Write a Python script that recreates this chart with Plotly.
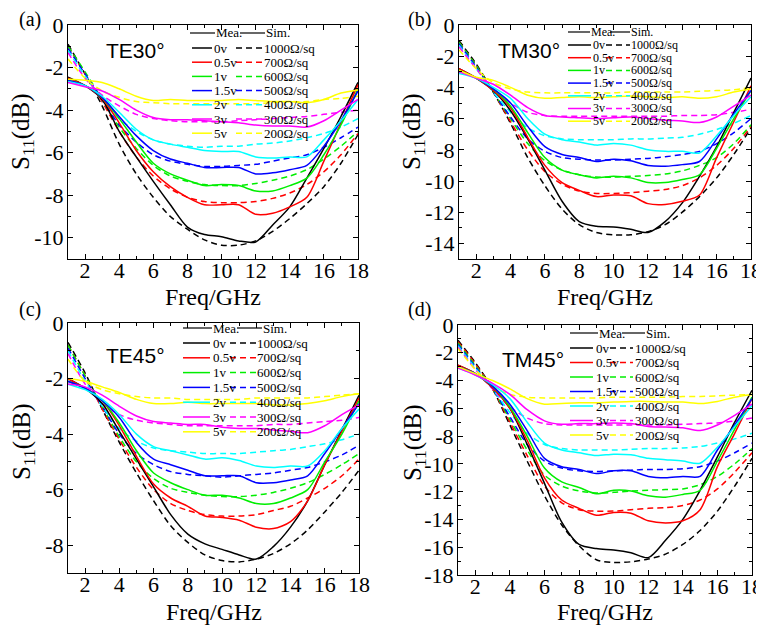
import plotly.graph_objects as go

FREQ = list(range(1, 19))
VOLTS = ["0v", "0.5v", "1v", "1.5v", "2v", "3v", "5v"]
SHEETS = ["1000Ω/sq", "700Ω/sq", "600Ω/sq", "500Ω/sq", "400Ω/sq", "300Ω/sq", "200Ω/sq"]
COLORS = ["#000000", "#ff0000", "#00ee00", "#0000ff", "#00ffff", "#ff00ff", "#ffff00"]
XTICKS = [2, 4, 6, 8, 10, 12, 14, 16, 18]
XTICK_TEXT = ["2", "4", "6", "8", "10", "12", "14", "16", "18"]

# ---------------- (a) TE30° ----------------
te30_mea_0v = [-2.45, -2.85, -3.5, -5.0, -6.2, -7.35, -8.45, -9.5, -9.85, -9.95, -10.15, -10.2, -9.4, -8.55, -7.2, -5.8, -4.3, -2.7]
te30_sim_0v = [-0.9, -2.3, -3.8, -5.6, -7.0, -8.1, -9.0, -9.6, -10.1, -10.35, -10.35, -10.15, -9.7, -9.1, -8.4, -7.6, -6.5, -5.15]
te30_mea_05v = [-2.5, -2.85, -3.45, -4.6, -5.9, -6.9, -7.6, -8.1, -8.45, -8.45, -8.45, -8.9, -8.85, -8.55, -8.1, -6.4, -4.6, -2.8]
te30_sim_05v = [-1.0, -2.3, -3.6, -5.0, -6.2, -7.1, -7.7, -8.1, -8.3, -8.35, -8.35, -8.3, -8.15, -7.9, -7.5, -6.9, -6.1, -5.1]
te30_mea_1v = [-2.6, -2.85, -3.4, -4.4, -5.5, -6.5, -7.0, -7.3, -7.55, -7.5, -7.55, -7.8, -7.8, -7.55, -7.2, -6.1, -4.7, -3.0]
te30_sim_1v = [-1.0, -2.2, -3.5, -4.8, -5.8, -6.6, -7.1, -7.35, -7.5, -7.55, -7.55, -7.45, -7.3, -7.1, -6.8, -6.3, -5.7, -5.0]
te30_mea_15v = [-2.6, -2.85, -3.4, -4.3, -5.2, -5.9, -6.3, -6.5, -6.7, -6.7, -6.7, -7.0, -6.95, -6.8, -6.6, -5.7, -4.5, -3.1]
te30_sim_15v = [-1.1, -2.3, -3.5, -4.7, -5.5, -6.1, -6.4, -6.55, -6.65, -6.65, -6.6, -6.55, -6.4, -6.25, -6.1, -5.75, -5.3, -4.8]
te30_mea_2v = [-2.65, -2.85, -3.35, -4.1, -4.9, -5.4, -5.6, -5.75, -5.9, -5.95, -5.95, -6.2, -6.25, -6.2, -6.2, -5.4, -4.5, -3.5]
te30_sim_2v = [-1.2, -2.4, -3.5, -4.4, -5.0, -5.4, -5.6, -5.7, -5.75, -5.7, -5.7, -5.6, -5.55, -5.45, -5.3, -5.1, -4.8, -4.4]
te30_mea_3v = [-2.7, -2.9, -3.1, -3.5, -4.0, -4.35, -4.45, -4.45, -4.5, -4.55, -4.6, -4.7, -4.75, -4.75, -4.8, -4.5, -4.0, -3.5]
te30_sim_3v = [-1.3, -2.5, -3.3, -3.8, -4.2, -4.4, -4.5, -4.55, -4.55, -4.55, -4.5, -4.45, -4.4, -4.35, -4.3, -4.2, -4.1, -4.0]
te30_mea_5v = [-2.55, -2.6, -2.7, -3.0, -3.35, -3.55, -3.5, -3.55, -3.55, -3.55, -3.5, -3.55, -3.6, -3.6, -3.65, -3.5, -3.2, -3.05]
te30_sim_5v = [-1.6, -2.5, -3.1, -3.4, -3.6, -3.65, -3.7, -3.7, -3.7, -3.7, -3.7, -3.7, -3.65, -3.6, -3.6, -3.5, -3.45, -3.35]

# ---------------- (b) TM30° ----------------
tm30_mea_0v = [-2.8, -3.4, -4.2, -5.5, -7.3, -9.3, -11.3, -12.6, -12.9, -12.95, -13.1, -13.3, -12.6, -11.4, -9.7, -7.8, -5.6, -3.4]
tm30_sim_0v = [-1.0, -2.5, -4.3, -6.3, -8.5, -10.3, -11.8, -12.8, -13.3, -13.45, -13.45, -13.25, -12.8, -12.0, -11.0, -9.8, -8.3, -6.6]
tm30_mea_05v = [-2.8, -3.4, -4.2, -5.3, -7.2, -9.0, -10.1, -10.6, -11.0, -10.9, -10.95, -11.45, -11.5, -11.3, -10.9, -8.5, -6.2, -3.9]
tm30_sim_05v = [-1.1, -2.6, -4.3, -6.2, -8.0, -9.4, -10.2, -10.65, -10.8, -10.8, -10.75, -10.65, -10.55, -10.3, -9.8, -9.0, -7.9, -6.5]
tm30_mea_1v = [-2.9, -3.4, -4.1, -5.2, -6.9, -8.5, -9.3, -9.6, -9.8, -9.7, -9.8, -10.1, -10.1, -9.9, -9.6, -7.9, -6.0, -4.2]
tm30_sim_1v = [-1.1, -2.6, -4.3, -6.0, -7.6, -8.7, -9.3, -9.6, -9.75, -9.75, -9.7, -9.65, -9.55, -9.35, -9.0, -8.5, -7.6, -6.4]
tm30_mea_15v = [-3.0, -3.4, -4.1, -5.0, -6.5, -7.8, -8.3, -8.5, -8.75, -8.6, -8.7, -9.0, -9.05, -8.95, -8.75, -7.3, -5.7, -4.2]
tm30_sim_15v = [-1.2, -2.7, -4.3, -5.9, -7.3, -8.1, -8.5, -8.6, -8.65, -8.65, -8.6, -8.55, -8.45, -8.3, -8.1, -7.6, -6.9, -6.0]
tm30_mea_2v = [-3.1, -3.4, -4.0, -4.7, -6.0, -7.0, -7.35, -7.5, -7.7, -7.6, -7.7, -8.0, -8.1, -8.1, -8.2, -7.1, -5.8, -4.6]
tm30_sim_2v = [-1.3, -2.8, -4.3, -5.6, -6.6, -7.1, -7.3, -7.35, -7.35, -7.35, -7.3, -7.3, -7.25, -7.2, -7.0, -6.7, -6.3, -5.8]
tm30_mea_3v = [-3.0, -3.4, -3.8, -4.5, -5.3, -5.8, -5.9, -5.95, -6.0, -5.95, -5.9, -6.0, -6.1, -6.15, -6.25, -5.9, -5.2, -4.5]
tm30_sim_3v = [-1.4, -2.8, -4.1, -5.0, -5.6, -5.8, -5.85, -5.85, -5.85, -5.85, -5.85, -5.85, -5.85, -5.8, -5.8, -5.75, -5.6, -5.4]
tm30_mea_5v = [-2.9, -3.35, -3.55, -4.0, -4.5, -4.7, -4.65, -4.6, -4.65, -4.6, -4.55, -4.6, -4.65, -4.6, -4.7, -4.6, -4.3, -4.1]
tm30_sim_5v = [-1.6, -2.8, -3.7, -4.1, -4.3, -4.35, -4.35, -4.35, -4.35, -4.35, -4.3, -4.3, -4.3, -4.3, -4.25, -4.2, -4.15, -4.0]

# ---------------- (c) TE45° ----------------
te45_mea_0v = [-2.0, -2.35, -2.9, -3.9, -4.9, -5.9, -6.9, -7.6, -7.95, -8.15, -8.35, -8.5, -8.05, -7.35, -6.4, -5.1, -3.85, -2.6]
te45_sim_0v = [-0.7, -1.8, -3.1, -4.3, -5.4, -6.4, -7.3, -7.9, -8.35, -8.55, -8.6, -8.5, -8.3, -7.95, -7.45, -6.8, -6.1, -5.3]
te45_mea_05v = [-2.0, -2.35, -2.8, -3.7, -4.8, -5.8, -6.3, -6.6, -6.95, -7.0, -7.1, -7.35, -7.4, -7.15, -6.4, -5.1, -3.9, -2.7]
te45_sim_05v = [-0.8, -1.9, -3.1, -4.2, -5.2, -6.0, -6.5, -6.75, -6.9, -6.95, -6.95, -6.9, -6.75, -6.6, -6.3, -5.95, -5.5, -4.9]
te45_mea_1v = [-2.1, -2.35, -2.8, -3.6, -4.6, -5.4, -5.75, -6.0, -6.2, -6.2, -6.3, -6.5, -6.5, -6.3, -6.0, -5.0, -4.0, -2.8]
te45_sim_1v = [-0.8, -1.9, -3.0, -4.1, -5.0, -5.6, -5.95, -6.1, -6.2, -6.25, -6.25, -6.2, -6.1, -5.95, -5.75, -5.45, -5.1, -4.7]
te45_mea_15v = [-2.1, -2.35, -2.8, -3.4, -4.3, -4.9, -5.1, -5.3, -5.5, -5.5, -5.5, -5.75, -5.75, -5.65, -5.5, -4.7, -3.8, -2.9]
te45_sim_15v = [-0.9, -2.0, -3.0, -4.0, -4.7, -5.1, -5.35, -5.45, -5.5, -5.55, -5.5, -5.45, -5.4, -5.3, -5.2, -5.0, -4.75, -4.4]
te45_mea_2v = [-2.2, -2.4, -2.75, -3.3, -4.0, -4.45, -4.6, -4.75, -4.9, -4.85, -4.95, -5.15, -5.2, -5.15, -5.15, -4.6, -3.8, -3.1]
te45_sim_2v = [-1.0, -2.1, -3.0, -3.8, -4.25, -4.5, -4.6, -4.65, -4.7, -4.7, -4.7, -4.65, -4.6, -4.55, -4.45, -4.35, -4.2, -4.0]
te45_mea_3v = [-2.2, -2.3, -2.6, -3.0, -3.35, -3.55, -3.6, -3.65, -3.65, -3.75, -3.8, -3.8, -3.85, -3.9, -3.95, -3.7, -3.3, -2.95]
te45_sim_3v = [-1.1, -2.2, -2.9, -3.3, -3.5, -3.6, -3.65, -3.7, -3.7, -3.7, -3.7, -3.7, -3.65, -3.65, -3.6, -3.55, -3.5, -3.4]
te45_mea_5v = [-2.0, -2.1, -2.3, -2.5, -2.75, -2.9, -2.9, -2.85, -2.9, -2.9, -2.9, -2.9, -2.95, -2.95, -2.9, -2.8, -2.65, -2.55]
te45_sim_5v = [-1.3, -2.1, -2.4, -2.55, -2.65, -2.7, -2.7, -2.75, -2.75, -2.75, -2.75, -2.7, -2.7, -2.7, -2.7, -2.65, -2.6, -2.55]

# ---------------- (d) TM45° ----------------
tm45_mea_0v = [-2.9, -3.5, -4.5, -6.0, -8.6, -11.4, -14.2, -15.8, -16.1, -16.2, -16.4, -16.75, -15.5, -14.0, -11.9, -9.5, -7.0, -4.7]
tm45_sim_0v = [-1.1, -2.7, -4.6, -7.2, -9.8, -12.3, -14.4, -15.9, -16.9, -17.1, -17.05, -16.85, -16.5, -15.8, -14.8, -13.4, -11.6, -9.6]
tm45_mea_05v = [-2.9, -3.5, -4.5, -6.0, -8.3, -11.0, -12.6, -13.2, -13.7, -13.5, -13.55, -14.1, -14.25, -14.1, -13.3, -10.2, -7.8, -5.3]
tm45_sim_05v = [-1.2, -2.8, -4.6, -7.0, -9.4, -11.6, -12.8, -13.3, -13.4, -13.4, -13.3, -13.2, -13.15, -13.0, -12.6, -11.8, -10.6, -9.2]
tm45_mea_1v = [-3.0, -3.5, -4.4, -5.9, -8.0, -10.3, -11.3, -11.7, -12.15, -11.9, -11.95, -12.3, -12.4, -12.2, -11.9, -9.8, -7.5, -5.2]
tm45_sim_1v = [-1.3, -2.9, -4.6, -6.8, -9.0, -10.8, -11.6, -11.95, -12.1, -12.05, -11.95, -11.9, -11.85, -11.8, -11.5, -10.9, -10.0, -8.9]
tm45_mea_15v = [-3.0, -3.5, -4.4, -5.7, -7.6, -9.6, -10.2, -10.4, -10.7, -10.5, -10.5, -10.9, -11.0, -10.9, -10.9, -9.0, -7.2, -5.3]
tm45_sim_15v = [-1.4, -3.0, -4.6, -6.6, -8.6, -9.8, -10.3, -10.5, -10.55, -10.5, -10.45, -10.4, -10.4, -10.35, -10.2, -9.8, -9.2, -8.5]
tm45_mea_2v = [-3.1, -3.6, -4.3, -5.3, -7.0, -8.5, -9.0, -9.2, -9.4, -9.3, -9.35, -9.6, -9.7, -9.8, -9.95, -8.8, -7.3, -5.8]
tm45_sim_2v = [-1.5, -3.1, -4.6, -6.3, -7.8, -8.6, -8.9, -9.0, -9.0, -9.0, -8.95, -8.9, -8.9, -8.85, -8.75, -8.5, -8.2, -7.8]
tm45_mea_3v = [-3.1, -3.6, -4.2, -5.0, -6.1, -6.9, -7.15, -7.1, -7.1, -7.05, -7.1, -7.3, -7.35, -7.4, -7.6, -7.2, -6.5, -5.7]
tm45_sim_3v = [-1.6, -3.2, -4.6, -5.9, -6.7, -7.1, -7.2, -7.2, -7.2, -7.2, -7.2, -7.2, -7.2, -7.15, -7.1, -7.05, -6.9, -6.7]
tm45_mea_5v = [-3.0, -3.5, -4.0, -4.6, -5.3, -5.7, -5.65, -5.6, -5.6, -5.55, -5.5, -5.5, -5.55, -5.55, -5.65, -5.5, -5.2, -5.0]
tm45_sim_5v = [-1.7, -3.2, -4.4, -5.0, -5.2, -5.25, -5.25, -5.25, -5.25, -5.2, -5.2, -5.2, -5.2, -5.15, -5.15, -5.1, -5.05, -5.0]

PANEL_LABELS = ["(a)", "(b)", "(c)", "(d)"]
PANEL_TITLES = ["TE30°", "TM30°", "TE45°", "TM45°"]
YRANGES = [(-11, 0), (-15, 0), (-9, 0), (-18, 0)]
YTICKS = [
    [0, -2, -4, -6, -8, -10],
    [0, -2, -4, -6, -8, -10, -12, -14],
    [0, -2, -4, -6, -8],
    [0, -2, -4, -6, -8, -10, -12, -14, -16, -18],
]

MEA = [
    [te30_mea_0v, te30_mea_05v, te30_mea_1v, te30_mea_15v, te30_mea_2v, te30_mea_3v, te30_mea_5v],
    [tm30_mea_0v, tm30_mea_05v, tm30_mea_1v, tm30_mea_15v, tm30_mea_2v, tm30_mea_3v, tm30_mea_5v],
    [te45_mea_0v, te45_mea_05v, te45_mea_1v, te45_mea_15v, te45_mea_2v, te45_mea_3v, te45_mea_5v],
    [tm45_mea_0v, tm45_mea_05v, tm45_mea_1v, tm45_mea_15v, tm45_mea_2v, tm45_mea_3v, tm45_mea_5v],
]
SIM = [
    [te30_sim_0v, te30_sim_05v, te30_sim_1v, te30_sim_15v, te30_sim_2v, te30_sim_3v, te30_sim_5v],
    [tm30_sim_0v, tm30_sim_05v, tm30_sim_1v, tm30_sim_15v, tm30_sim_2v, tm30_sim_3v, tm30_sim_5v],
    [te45_sim_0v, te45_sim_05v, te45_sim_1v, te45_sim_15v, te45_sim_2v, te45_sim_3v, te45_sim_5v],
    [tm45_sim_0v, tm45_sim_05v, tm45_sim_1v, tm45_sim_15v, tm45_sim_2v, tm45_sim_3v, tm45_sim_5v],
]

W, H = 764, 630
OFF = 8  # the page body margin shifts the figure by this many pixels
def PX(x):
    return (x - OFF) / W
def PY(y):
    return 1 - (y - OFF) / H

# plot-area boxes in page pixels: (left, right, top, bottom)
BOXES = [(68, 358, 25, 259), (459, 751, 25, 259), (68, 359, 323, 573), (458, 752, 325, 575)]
SERIF = "Liberation Serif"

fig = go.Figure()
annotations = []
shapes = []

for p in range(4):
    xa = "x" if p == 0 else f"x{p+1}"
    ya = "y" if p == 0 else f"y{p+1}"
    for i in range(7):
        fig.add_trace(go.Scatter(x=FREQ, y=SIM[p][i], mode="lines", xaxis=xa, yaxis=ya,
                                 line=dict(color=COLORS[i], width=1.5, dash="6px,4px", shape="spline", smoothing=0.8),
                                 showlegend=False, hoverinfo="skip"))
    for i in range(7):
        fig.add_trace(go.Scatter(x=FREQ, y=MEA[p][i], mode="lines", xaxis=xa, yaxis=ya,
                                 line=dict(color=COLORS[i], width=1.5, shape="spline", smoothing=0.8),
                                 showlegend=False, hoverinfo="skip"))

    l, r, t, b = BOXES[p]
    axis_common = dict(showline=True, linecolor="black", linewidth=1, mirror="allticks",
                       ticks="inside", ticklen=5, tickwidth=1, tickcolor="black",
                       showgrid=False, zeroline=False, automargin=False, ticklabeloverflow="allow",
                       tickfont=dict(family=SERIF, size=22, color="black"),
                       minor=dict(ticks="inside", ticklen=3, tickwidth=1, tickcolor="black", dtick=1, showgrid=False))
    xkey = "xaxis" if p == 0 else f"xaxis{p+1}"
    ykey = "yaxis" if p == 0 else f"yaxis{p+1}"
    fig.update_layout(**{
        xkey: dict(domain=[PX(l), PX(r)], range=[1, 18], tickmode="array", tickvals=XTICKS, ticktext=XTICK_TEXT,
                   anchor=ya, ticklabelstandoff=-8, **axis_common),
        ykey: dict(domain=[PY(b), PY(t)], range=list(YRANGES[p]), tickmode="array", tickvals=YTICKS[p],
                   ticktext=[str(v) for v in YTICKS[p]], anchor=xa, ticklabelstandoff=-1, **axis_common),
    })

# axis titles, panel labels, panel titles (page pixels)
XTITLE_Y = [297, 297, 612, 612]
YTITLE_X = [23, 414, 23, 414]
YTITLE_Y = [132, 132, 442, 443]
LABEL_POS = [(30, 19), (420, 19), (30, 309), (420, 309)]
TITLE_POS = [(135, 51), (529, 51), (135, 355), (533, 359)]
for p in range(4):
    l, r, t, b = BOXES[p]
    annotations.append(dict(text="Freq/GHz", x=PX((l + r) / 2), y=PY(XTITLE_Y[p]), xref="paper", yref="paper",
                            showarrow=False, xanchor="center", yanchor="middle",
                            font=dict(family=SERIF, size=24, color="black")))
    annotations.append(dict(text="S<sub>11</sub>(dB)", x=PX(YTITLE_X[p]), y=PY(YTITLE_Y[p]), xref="paper", yref="paper",
                            showarrow=False, textangle=-90, xanchor="center", yanchor="middle",
                            font=dict(family=SERIF, size=25, color="black")))
    lx, ly = LABEL_POS[p]
    annotations.append(dict(text=PANEL_LABELS[p], x=PX(lx), y=PY(ly), xref="paper", yref="paper",
                            showarrow=False, xanchor="center", yanchor="middle",
                            font=dict(family=SERIF, size=20, color="black")))
    tx, ty = TITLE_POS[p]
    annotations.append(dict(text=PANEL_TITLES[p], x=PX(tx), y=PY(ty), xref="paper", yref="paper",
                            showarrow=False, xanchor="center", yanchor="middle",
                            font=dict(family="Liberation Sans", size=21, color="black")))

# custom legends (page pixels)
LEG = [
    (192, 212, 213, 236, 262, 263, 33, 48, 14.2, 190, 215, 215, 240, 265, 265),
    (568, 591, 592, 606, 630, 630, 32, 45, 12.7, 568, 590, 590, 610, 630, 630),
    (183, 210, 212, 230, 256, 256, 328, 343, 14.8, 183, 212, 212, 237, 262, 262),
    (570, 593, 595, 610, 633, 634, 333, 348, 14.5, 570, 598, 598, 622, 645, 645),
]
LSIZE = [13, 12, 13, 13]
for p in range(4):
    LFONT = dict(family=SERIF, size=LSIZE[p], color="black")
    sx0, sx1, vx, dx0, dx1, rx, hy, ry0, step, h1a, h1b, mx, h2a, h2b, smx = LEG[p]
    shapes.append(dict(type="line", xref="paper", yref="paper", x0=PX(h1a), x1=PX(h1b), y0=PY(hy), y1=PY(hy),
                       line=dict(color="black", width=1.2)))
    shapes.append(dict(type="line", xref="paper", yref="paper", x0=PX(h2a), x1=PX(h2b), y0=PY(hy), y1=PY(hy),
                       line=dict(color="black", width=1.2)))
    annotations.append(dict(text="Mea.", x=PX(mx), y=PY(hy), xref="paper", yref="paper", showarrow=False,
                            xanchor="left", yanchor="middle", font=LFONT, borderpad=0))
    annotations.append(dict(text="Sim.", x=PX(smx), y=PY(hy), xref="paper", yref="paper", showarrow=False,
                            xanchor="left", yanchor="middle", font=LFONT, borderpad=0))
    for i in range(7):
        yy = ry0 + i * step
        shapes.append(dict(type="line", xref="paper", yref="paper", x0=PX(sx0), x1=PX(sx1), y0=PY(yy), y1=PY(yy),
                           line=dict(color=COLORS[i], width=1.5)))
        shapes.append(dict(type="line", xref="paper", yref="paper", x0=PX(dx0), x1=PX(dx1), y0=PY(yy), y1=PY(yy),
                           line=dict(color=COLORS[i], width=1.5, dash="6px,4px")))
        annotations.append(dict(text=VOLTS[i], x=PX(vx), y=PY(yy), xref="paper", yref="paper", showarrow=False,
                                xanchor="left", yanchor="middle", font=LFONT, borderpad=0))
        annotations.append(dict(text=SHEETS[i], x=PX(rx), y=PY(yy), xref="paper", yref="paper", showarrow=False,
                                xanchor="left", yanchor="middle", font=LFONT, borderpad=0))

fig.update_layout(width=W, height=H, margin=dict(l=0, r=0, t=0, b=0, pad=0, autoexpand=False),
                  paper_bgcolor="white", plot_bgcolor="white",
                  font=dict(family=SERIF, color="black"),
                  annotations=annotations, shapes=shapes, showlegend=False)

fig.write_html("out.html")
